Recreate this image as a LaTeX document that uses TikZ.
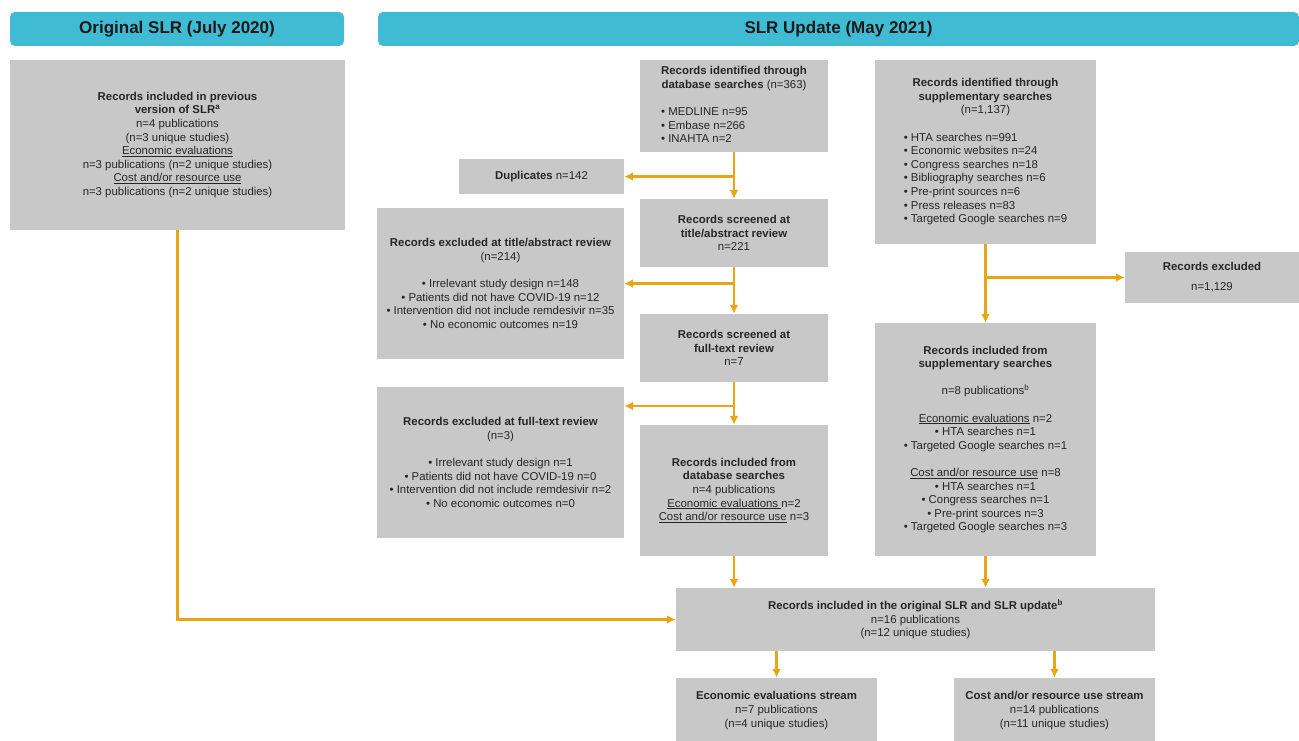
\documentclass[tikz,border=0pt]{standalone}
\usepackage{fontspec}
\setmainfont{Liberation Sans}
\usepackage{tikz}
\usetikzlibrary{arrows.meta, positioning}
\usepackage{xcolor}
\usepackage{array}

\definecolor{headcyan}{RGB}{63,188,212}
\definecolor{boxgray}{RGB}{200,200,200}
\definecolor{flowgold}{RGB}{232,166,22}
\definecolor{txtgray}{RGB}{38,38,38}

\begin{document}
\begin{tikzpicture}[x=1pt,y=-1pt]
                    \tikzstyle{header} = [
	shape=rectangle,
	fill=headcyan, %fill of the title band
	rounded corners=5pt,
	inner sep=0pt,
	text=black!90,
	font=\fontsize{17}{20}\selectfont\bfseries
];
\tikzstyle{record} = [
	shape=rectangle,
	fill=boxgray, %grey box, no border
	inner sep=0pt,
	align=center,
	text=txtgray,
	font=\fontsize{11.4}{13.6}\selectfont
];
\tikzstyle{flow} = [-{Latex[length=9pt,width=9pt]}, line width=2.2pt, color=flowgold];

\useasboundingbox (0,0) rectangle (1299,741);

%title bands
\node[header, minimum width=334, minimum height=34](hdorig) at (177,29) {Original SLR (July 2020)};
\node[header, minimum width=921, minimum height=34](hdupd) at (838.5,29) {SLR Update (May 2021)};

%original SLR
\node[record, minimum width=335, minimum height=170](prev) at (177.5,145) {%
	\textbf{Records included in previous}\\
	\textbf{version of SLR\textsuperscript{a}}\\
	n=4 publications\\
	(n=3 unique studies)\\
	\underline{Economic evaluations}\\
	n=3 publications (n=2 unique studies)\\
	\underline{Cost and/or resource use}\\
	n=3 publications (n=2 unique studies)};

%database searches
\node[record, minimum width=188, minimum height=92](dbid) at (734,106) {%
	\begin{tabular}{@{}l@{}}
	\multicolumn{1}{@{}c@{}}{\bfseries Records identified through}\\
	\multicolumn{1}{@{}c@{}}{\textbf{database searches} (n=363)}\\[13.6pt]
	• MEDLINE n=95\\
	• Embase n=266\\
	• INAHTA n=2
	\end{tabular}};
\node[record, minimum width=165, minimum height=35](dup) at (541.5,176.5) {\textbf{Duplicates} n=142};
\node[record, minimum width=188, minimum height=68](sctitle) at (734,233) {%
	\textbf{Records screened at}\\
	\textbf{title/abstract review}\\
	n=221};
\node[record, minimum width=247, minimum height=151](extitle) at (500.5,283.5) {%
	\textbf{Records excluded at title/abstract review}\\
	(n=214)\\[13.6pt]
	• Irrelevant study design n=148\\
	• Patients did not have COVID-19 n=12\\
	• Intervention did not include remdesivir n=35\\
	• No economic outcomes n=19};
\node[record, minimum width=188, minimum height=68](scfull) at (734,348) {%
	\textbf{Records screened at}\\
	\textbf{full-text review}\\
	n=7};
\node[record, minimum width=247, minimum height=151](exfull) at (500.5,462.5) {%
	\textbf{Records excluded at full-text review}\\
	(n=3)\\[13.6pt]
	• Irrelevant study design n=1\\
	• Patients did not have COVID-19 n=0\\
	• Intervention did not include remdesivir n=2\\
	• No economic outcomes n=0};
\node[record, minimum width=188, minimum height=131](dbinc) at (734,490.5) {%
	\textbf{Records included from}\\
	\textbf{database searches}\\
	n=4 publications\\
	\underline{Economic evaluations }n=2\\
	\underline{Cost and/or resource use} n=3};

%supplementary searches
\node[record, minimum width=221, minimum height=184](supid) at (985.5,152) {%
	\begin{tabular}{@{}l@{}}
	\multicolumn{1}{@{}c@{}}{\bfseries Records identified through}\\
	\multicolumn{1}{@{}c@{}}{\bfseries supplementary searches}\\
	\multicolumn{1}{@{}c@{}}{(n=1,137)}\\[13.6pt]
	• HTA searches n=991\\
	• Economic websites n=24\\
	• Congress searches n=18\\
	• Bibliography searches n=6\\
	• Pre-print sources n=6\\
	• Press releases n=83\\
	• Targeted Google searches n=9
	\end{tabular}};
\node[record, minimum width=174, minimum height=51](excl) at (1212,277.5) {%
	\textbf{Records excluded}\\[6.4pt]
	n=1,129};
\node[record, minimum width=221, minimum height=233](supinc) at (985.5,439.5) {%
	\textbf{Records included from}\\
	\textbf{supplementary searches}\\[13.6pt]
	n=8 publications\textsuperscript{b}\\[13.6pt]
	\underline{Economic evaluations} n=2\\
	• HTA searches n=1\\
	• Targeted Google searches n=1\\[13.6pt]
	\underline{Cost and/or resource use} n=8\\
	• HTA searches n=1\\
	• Congress searches n=1\\
	• Pre-print sources n=3\\
	• Targeted Google searches n=3};

%combined and streams
\node[record, minimum width=479, minimum height=63](comb) at (915.5,619.5) {%
	\textbf{Records included in the original SLR and SLR update\textsuperscript{b}}\\
	n=16 publications\\
	(n=12 unique studies)};
\node[record, minimum width=201, minimum height=65](econ) at (776.5,710.5) {%
	\textbf{Economic evaluations stream}\\
	n=7 publications\\
	(n=4 unique studies)};
\node[record, minimum width=201, minimum height=65](cost) at (1054.5,710.5) {%
	\textbf{Cost and/or resource use stream}\\
	n=14 publications\\
	(n=11 unique studies)};

%database stream
\draw[flow] (dbid) -- (sctitle);
\draw[flow] (dup.east -| dbid.south) -- (dup.east);
\draw[flow] (sctitle) -- (scfull);
\draw[flow] (extitle.east -| sctitle.south) -- (extitle.east);
\draw[flow] (scfull) -- (dbinc);
\draw[flow] (scfull.south |- 0,406) -- (exfull.east |- 0,406);
\draw[flow] (dbinc.south) -- (dbinc.south |- comb.north);

%supplementary stream
\draw[flow] (supid) -- (supinc);
\draw[flow] (excl.west -| supid.south) -- (excl.west);
\draw[flow] (supinc.south) -- (supinc.south |- comb.north);

%original SLR and streams
\draw[flow] (prev.south) |- (comb.west);
\draw[flow] (comb.south -| econ.north) -- (econ.north);
\draw[flow] (comb.south -| cost.north) -- (cost.north);

                \end{tikzpicture}
\end{document}
